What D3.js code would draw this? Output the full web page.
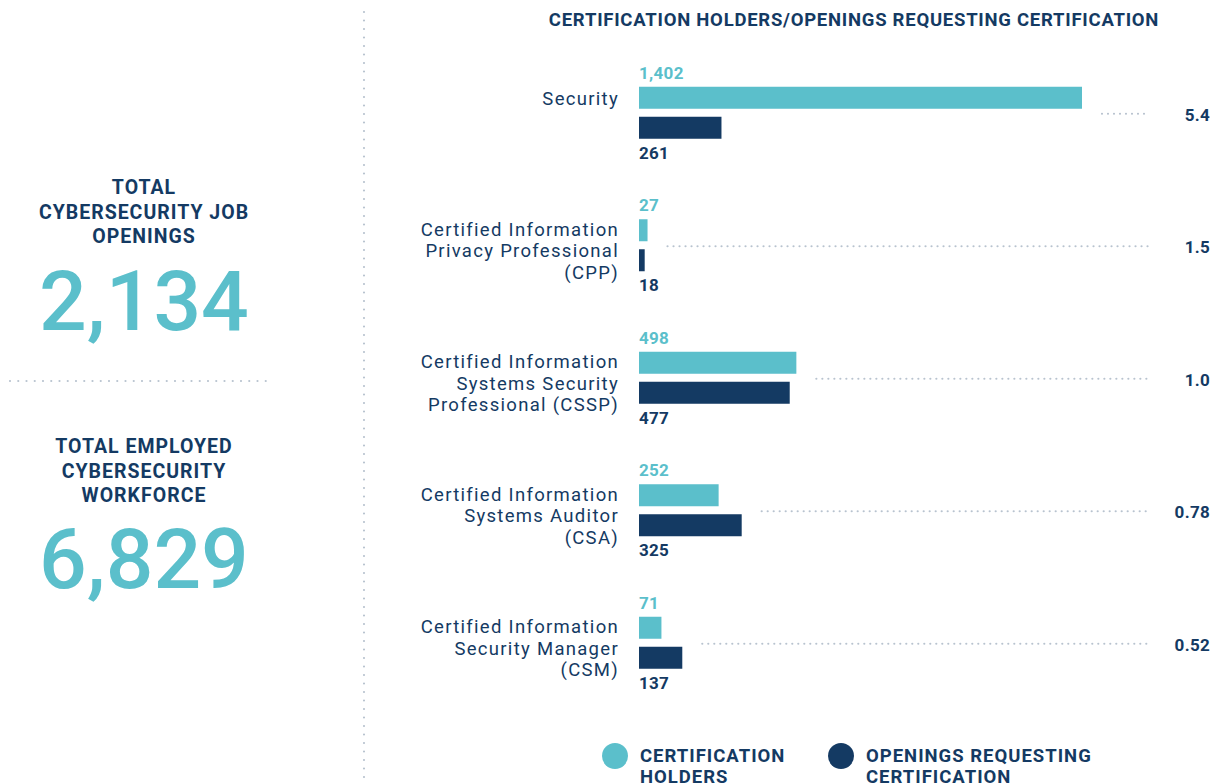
<!DOCTYPE html>
<html><head><meta charset="utf-8">
<script src="https://cdn.jsdelivr.net/npm/d3@7"></script>
<style>
html,body{margin:0;padding:0;background:#fff;}
svg{display:block;}
text{font-family:Roboto,"Liberation Sans",sans-serif;}
</style></head>
<body><svg id="c" width="1222" height="784"></svg>
<script>
const categories = ["Security","CPP","CSSP","CSA","CSM"];
const categoryLines = [
  ["Security"],
  ["Certified Information","Privacy Professional","(CPP)"],
  ["Certified Information","Systems Security","Professional (CSSP)"],
  ["Certified Information","Systems Auditor","(CSA)"],
  ["Certified Information","Security Manager","(CSM)"]
];
const holders = [1402, 27, 498, 252, 71];
const openings = [261, 18, 477, 325, 137];
const ratios = ["5.4","1.5","1.0","0.78","0.52"];
const seriesNames = [["CERTIFICATION","HOLDERS"],["OPENINGS REQUESTING","CERTIFICATION"]];
const title = "CERTIFICATION HOLDERS/OPENINGS REQUESTING CERTIFICATION";
const stats = [
  {label:["TOTAL","CYBERSECURITY JOB","OPENINGS"], value:"2,134"},
  {label:["TOTAL EMPLOYED","CYBERSECURITY","WORKFORCE"], value:"6,829"}
];

const TEAL = "#5bbfcb", NAVY = "#143a63", DOT = "#b8c3cf";
const svg = d3.select("#c");

// left panel
const statY = [187, 446];
const numY = [330, 588];
stats.forEach((s,i)=>{
  const t = svg.append("text").attr("x",144).attr("y",statY[i]+7)
    .attr("text-anchor","middle").attr("fill",NAVY)
    .attr("font-weight",700).attr("font-size",19.5).attr("letter-spacing",1.0);
  s.label.forEach((l,j)=>t.append("tspan").attr("x",144).attr("dy",j?24.5:0).text(l));
  svg.append("text").attr("x",144).attr("y",numY[i]).attr("text-anchor","middle")
    .attr("fill",TEAL).attr("font-size",84).attr("font-weight",500).text(s.value);
});
svg.append("line").attr("x1",10).attr("x2",274).attr("y1",381).attr("y2",381)
  .attr("stroke",DOT).attr("stroke-width",2.2).attr("stroke-linecap","round").attr("stroke-dasharray","0,8.25");
svg.append("line").attr("x1",364).attr("x2",364).attr("y1",12).attr("y2",784)
  .attr("stroke",DOT).attr("stroke-width",2.2).attr("stroke-linecap","round").attr("stroke-dasharray","0,8.5");

// title
svg.append("text").attr("x",854).attr("y",26).attr("text-anchor","middle")
  .attr("fill",NAVY).attr("font-weight",700).attr("font-size",18.5).attr("letter-spacing",0.75).text(title);

// scales
const x = d3.scaleLinear().domain([0,1402]).range([639,1082]);
const y = d3.scaleBand().domain(categories).range([46.5,709]).padding(0);
const bh = 22;
const c = i => y(categories[i]) + y.bandwidth()/2;

const g = svg.append("g");
categories.forEach((cat,i)=>{
  const cy = c(i);
  g.append("rect").attr("x",x(0)).attr("y",cy-26).attr("width",x(holders[i])-x(0)).attr("height",bh).attr("fill",TEAL);
  g.append("rect").attr("x",x(0)).attr("y",cy+4).attr("width",x(openings[i])-x(0)).attr("height",bh).attr("fill",NAVY);
  g.append("text").attr("x",x(0)).attr("y",cy-34).attr("fill",TEAL).attr("font-weight",700).attr("font-size",17)
    .attr("letter-spacing",0.3).text(d3.format(",")(holders[i]));
  g.append("text").attr("x",x(0)).attr("y",cy+46).attr("fill",NAVY).attr("font-weight",700).attr("font-size",17)
    .attr("letter-spacing",0.3).text(d3.format(",")(openings[i]));
  // category label
  const lines = categoryLines[i];
  const lh = 21.3;
  const mid = lines.length===1 ? cy-15 : cy+5;
  const t = g.append("text").attr("text-anchor","end").attr("fill",NAVY).attr("font-size",18.5)
    .attr("letter-spacing",1.3)
    .attr("y", mid - (lines.length-1)*lh/2 + 7);
  lines.forEach((l,j)=>t.append("tspan").attr("x",619).attr("dy",j?lh:0).text(l));
  // ratio leader
  const end = Math.max(x(holders[i]), x(openings[i])) + 20;
  g.append("line").attr("x1",end).attr("x2",1148).attr("y1",cy+1).attr("y2",cy+1)
    .attr("stroke",DOT).attr("stroke-width",2.2).attr("stroke-linecap","round").attr("stroke-dasharray","0,6");
  g.append("text").attr("x",1210).attr("y",cy+8).attr("text-anchor","end").attr("fill",NAVY)
    .attr("font-weight",700).attr("font-size",17).attr("letter-spacing",0.3).text(ratios[i]);
});

// legend
const lg = [{cx:615,tx:640,col:TEAL},{cx:841,tx:866,col:NAVY}];
lg.forEach((l,i)=>{
  svg.append("circle").attr("cx",l.cx).attr("cy",756).attr("r",13).attr("fill",l.col);
  const t = svg.append("text").attr("y",762).attr("fill",NAVY).attr("font-weight",700).attr("font-size",18.5)
    .attr("letter-spacing",1.0);
  seriesNames[i].forEach((s,j)=>t.append("tspan").attr("x",l.tx).attr("dy",j?21:0).text(s));
});
</script></body></html>
